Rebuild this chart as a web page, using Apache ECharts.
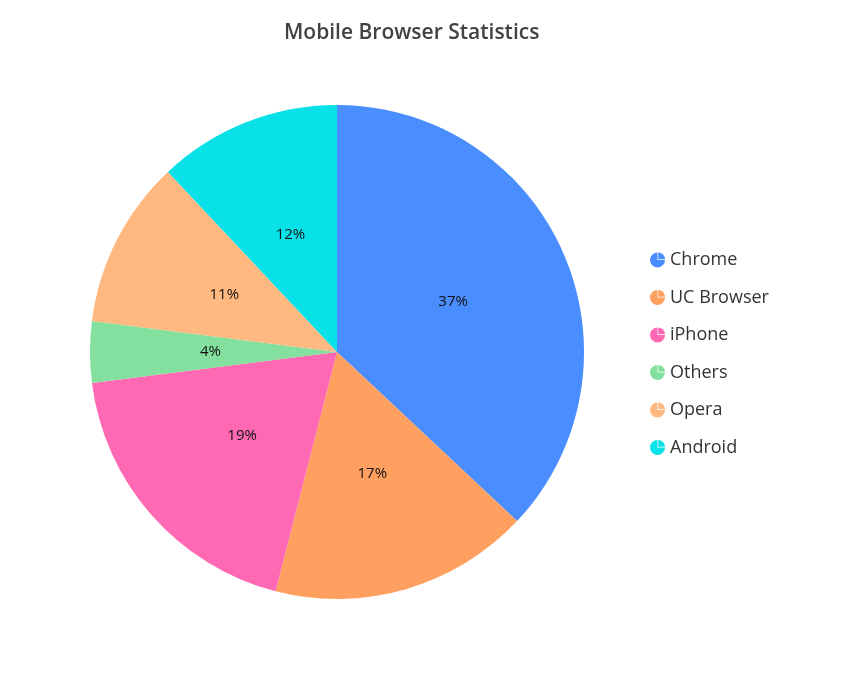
<!DOCTYPE html>
<html>
<head>
<meta charset="utf-8">
<script src="https://cdn.jsdelivr.net/npm/echarts@6/dist/echarts.min.js"></script>
<style>
	html, body { margin:0; padding:0; background:#fff; }
	#main { width:854px; height:674px; }
</style>
</head>
<body>
<div id="main"></div>
<script type="text/javascript">
	var browsers = ['Chrome', 'UC Browser', 'iPhone', 'Others', 'Opera', 'Android'];
	var shares = [37, 17, 19, 4, 11, 12];
	var colors = ['#498dff', '#ffa060', '#ff69b4', '#84e09e', '#ffb880', '#08e1e8'];

	var pieIcon = 'path://M50,50 L50,0 A50,50 0 1,0 100,50 Z M55,45 L55,0 A45,45 0 0,1 100,45 Z';

	var data = [];
	for (var i = 0; i < browsers.length; i++) {
		data.push({ name: browsers[i], value: shares[i] });
	}

	var chart = echarts.init(document.getElementById('main'));
	chart.setOption({
		animation: false,
		color: colors,
		title: {
			text: 'Mobile Browser Statistics',
			left: 279,
			top: 18,
			textStyle: {
				fontFamily: 'Open Sans',
				fontSize: 21,
				fontWeight: 600,
				color: '#424242'
			}
		},
		legend: {
			orient: 'vertical',
			left: 645,
			top: 246,
			icon: pieIcon,
			itemWidth: 15,
			itemHeight: 15,
			itemGap: 19.5,
			data: browsers,
			textStyle: {
				fontFamily: 'Open Sans',
				fontSize: 18,
				lineHeight: 18,
				color: '#333'
			}
		},
		series: [
			{
				type: 'pie',
				center: [337, 352],
				radius: 247,
				startAngle: 90,
				clockwise: true,
				emphasis: { disabled: true },
				label: {
					position: 'inside',
					formatter: '{c}%',
					fontFamily: 'Open Sans',
					fontSize: 15,
					color: '#111'
				},
				labelLine: { show: false },
				data: data
			}
		]
	});
</script>
</body>
</html>
